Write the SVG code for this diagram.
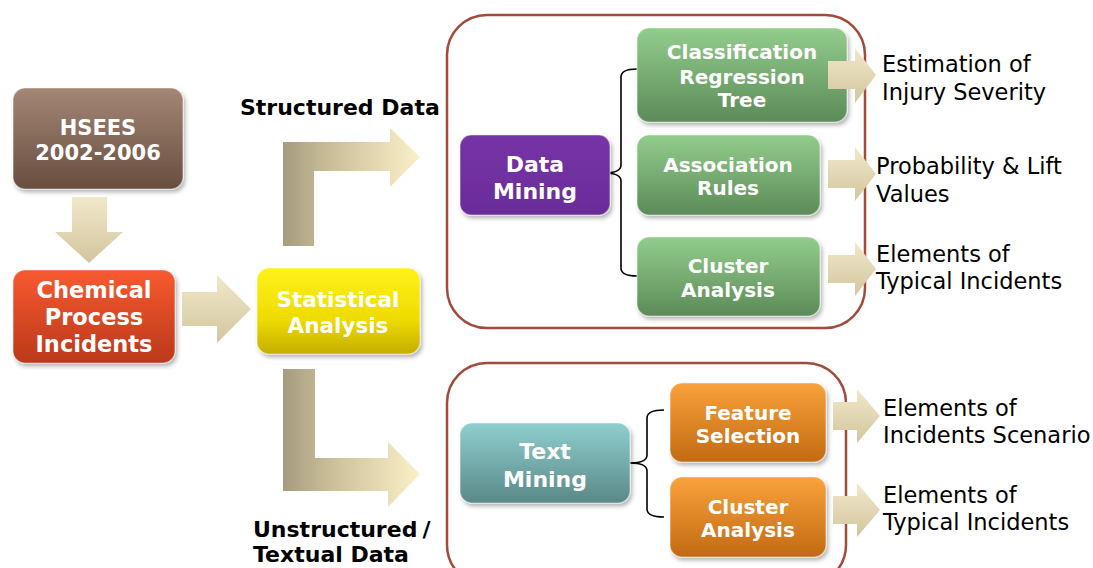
<svg xmlns="http://www.w3.org/2000/svg" width="1093" height="568" viewBox="0 0 1093 568">
<style>
.bt{font-family:"DejaVu Sans",Verdana,sans-serif;font-weight:bold;fill:#fff;text-anchor:middle}
.lbl{font-family:"DejaVu Sans",Verdana,sans-serif;font-weight:bold;fill:#000;font-size:22px}
.out{font-family:"DejaVu Sans",Verdana,sans-serif;fill:#000;font-size:22.5px}
.box{stroke:rgba(255,255,255,0.45);stroke-width:1.2;filter:url(#sh)}
.cont{fill:none;stroke:#a24b3a;stroke-width:2.5}
.brace{fill:none;stroke:#000;stroke-width:1.6}
</style>
<defs>
<filter id="sh" x="-10%" y="-10%" width="125%" height="130%">
<feDropShadow dx="2" dy="3" stdDeviation="2" flood-color="#000" flood-opacity="0.3"/>
</filter>
<linearGradient id="gBrown" x1="0" y1="0" x2="0" y2="1"><stop offset="0" stop-color="#a48674"/><stop offset="1" stop-color="#684e40"/></linearGradient>
<linearGradient id="gRed" x1="0" y1="0" x2="0" y2="1"><stop offset="0" stop-color="#f85a30"/><stop offset="1" stop-color="#bb381a"/></linearGradient>
<linearGradient id="gYel" x1="0" y1="0" x2="0" y2="1"><stop offset="0" stop-color="#fff21a"/><stop offset="0.6" stop-color="#eedb00"/><stop offset="1" stop-color="#c4ae00"/></linearGradient>
<linearGradient id="gPur" x1="0" y1="0" x2="0" y2="1"><stop offset="0" stop-color="#7634a6"/><stop offset="1" stop-color="#6a2c9a"/></linearGradient>
<linearGradient id="gGrn" x1="0" y1="0" x2="0" y2="1"><stop offset="0" stop-color="#92cd8c"/><stop offset="1" stop-color="#5c8b58"/></linearGradient>
<linearGradient id="gTeal" x1="0" y1="0" x2="0" y2="1"><stop offset="0" stop-color="#8fcfcf"/><stop offset="1" stop-color="#5a8888"/></linearGradient>
<linearGradient id="gOr" x1="0" y1="0" x2="0" y2="1"><stop offset="0" stop-color="#f9a23c"/><stop offset="1" stop-color="#c26a12"/></linearGradient>
<linearGradient id="gBent" x1="0" y1="0" x2="1" y2="0"><stop offset="0" stop-color="#a59b7e"/><stop offset="0.35" stop-color="#cbbf9a"/><stop offset="1" stop-color="#fbf1c8"/></linearGradient>
<linearGradient id="gArrV" x1="0" y1="0" x2="0" y2="1"><stop offset="0" stop-color="#f1e8ca"/><stop offset="1" stop-color="#d3c69e"/></linearGradient>
</defs>

<g id="connectors">
<polygon id="arr-hsees-chem" fill="url(#gArrV)" points="72,197 107,197 107,232 123,232 89,263 55,232 72,232"/>
<polygon id="arr-chem-stat" fill="url(#gArrV)" points="182,292 217,292 217,275 251,309 217,343 217,326 182,326"/>
<polygon id="arr-structured" fill="url(#gBent)" points="283,246 283,142 390,142 390,128 420,157 390,187 390,171 314,171 314,246"/>
<polygon id="arr-unstructured" fill="url(#gBent)" points="283,369 315,369 315,458 388,458 388,442 420,474 388,507 388,491 283,491"/>
<path class="brace" d="M637,69 Q621,69 621,77 L621,165 Q621,173 604,173 Q621,173 621,181 L621,268 Q621,276 637,276"/>
<path class="brace" d="M664,410 Q647,410 647,418 L647,455 Q647,463 630,463 Q647,463 647,471 L647,509 Q647,517 664,517"/>
</g>

<g id="container-data"><rect class="cont" x="447" y="15" width="418" height="313" rx="40"/></g>
<g id="container-text"><rect class="cont" x="447" y="363" width="399" height="222" rx="40"/></g>

<g id="label-structured"><text class="lbl" x="240" y="115">Structured Data</text></g>
<g id="label-unstructured"><text class="lbl" x="253" y="537">Unstructured<tspan dx="5">/</tspan></text><text class="lbl" x="253" y="562">Textual Data</text></g>

<g id="hsees">
<rect class="box" x="13" y="88" width="170" height="101" rx="12" fill="url(#gBrown)"/>
<text class="bt" font-size="21" x="98" y="135">HSEES</text>
<text class="bt" font-size="21" x="98" y="160">2002-2006</text>
</g>
<g id="chemical">
<rect class="box" x="13" y="270" width="162" height="93" rx="12" fill="url(#gRed)"/>
<text class="bt" font-size="22.5" x="94" y="298">Chemical</text>
<text class="bt" font-size="22.5" x="94" y="325">Process</text>
<text class="bt" font-size="22.5" x="94" y="352">Incidents</text>
</g>
<g id="statistical">
<rect class="box" x="257" y="268" width="163" height="86" rx="12" fill="url(#gYel)"/>
<text class="bt" font-size="21.5" x="338" y="307">Statistical</text>
<text class="bt" font-size="21.5" x="338" y="333">Analysis</text>
</g>
<g id="datamining">
<rect class="box" x="460" y="135" width="150" height="80" rx="11" fill="url(#gPur)"/>
<text class="bt" font-size="22" x="535" y="172">Data</text>
<text class="bt" font-size="22" x="535" y="199">Mining</text>
</g>
<g id="crt">
<rect class="box" x="637" y="28" width="210" height="94" rx="12" fill="url(#gGrn)"/>
<text class="bt" font-size="20" x="742" y="59">Classification</text>
<text class="bt" font-size="20" x="742" y="84">Regression</text>
<text class="bt" font-size="20" x="742" y="107">Tree</text>
</g>
<g id="assoc">
<rect class="box" x="637" y="135" width="183" height="80" rx="12" fill="url(#gGrn)"/>
<text class="bt" font-size="20" x="728" y="172">Association</text>
<text class="bt" font-size="20" x="728" y="195">Rules</text>
</g>
<g id="cluster1">
<rect class="box" x="637" y="237" width="183" height="79" rx="12" fill="url(#gGrn)"/>
<text class="bt" font-size="20" x="728" y="273">Cluster</text>
<text class="bt" font-size="20" x="728" y="297">Analysis</text>
</g>
<g id="textmining">
<rect class="box" x="460" y="423" width="170" height="80" rx="12" fill="url(#gTeal)"/>
<text class="bt" font-size="22" x="545" y="459">Text</text>
<text class="bt" font-size="22" x="545" y="487">Mining</text>
</g>
<g id="feature">
<rect class="box" x="670" y="383" width="156" height="79" rx="12" fill="url(#gOr)"/>
<text class="bt" font-size="20" x="748" y="420">Feature</text>
<text class="bt" font-size="20" x="748" y="443">Selection</text>
</g>
<g id="cluster2">
<rect class="box" x="670" y="477" width="156" height="80" rx="12" fill="url(#gOr)"/>
<text class="bt" font-size="20" x="748" y="514">Cluster</text>
<text class="bt" font-size="20" x="748" y="537">Analysis</text>
</g>

<g id="out-arrows">
<polygon fill="url(#gArrV)" points="828,61 855,61 855,48 876,75 855,103 855,89 828,89"/>
<polygon fill="url(#gArrV)" points="828,160 855,160 855,147 876,174 855,201 855,188 828,188"/>
<polygon fill="url(#gArrV)" points="828,255 855,255 855,242 876,269 855,296 855,283 828,283"/>
<polygon fill="url(#gArrV)" points="833,402 857,402 857,389 880,416 857,443 857,430 833,430"/>
<polygon fill="url(#gArrV)" points="833,496 857,496 857,483 880,510 857,537 857,524 833,524"/>
</g>

<g id="out-severity"><text class="out" x="882" y="72">Estimation of</text><text class="out" x="882" y="100">Injury Severity</text></g>
<g id="out-prob"><text class="out" x="876" y="174">Probability &amp; Lift</text><text class="out" x="876" y="202">Values</text></g>
<g id="out-typical1"><text class="out" x="876" y="262">Elements of</text><text class="out" x="876" y="289">Typical Incidents</text></g>
<g id="out-scenario"><text class="out" x="883" y="416">Elements of</text><text class="out" x="883" y="443">Incidents Scenario</text></g>
<g id="out-typical2"><text class="out" x="883" y="503">Elements of</text><text class="out" x="883" y="530">Typical Incidents</text></g>
</svg>
